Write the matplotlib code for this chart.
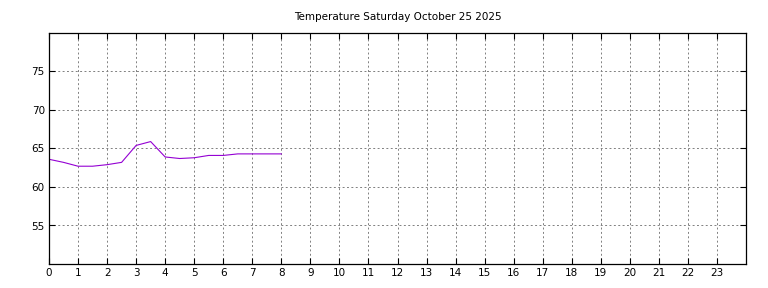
import matplotlib
matplotlib.use('Agg')
import matplotlib.pyplot as plt

hours = [0, 0.5, 1, 1.5, 2, 2.5, 3, 3.5, 4, 4.5, 5, 5.5, 6, 6.5, 7, 7.5, 8]
temps = [63.6, 63.2, 62.7, 62.7, 62.9, 63.2, 65.4, 65.9, 63.9, 63.7, 63.8,
         64.1, 64.1, 64.3, 64.3, 64.3, 64.3]
x_ticks = list(range(24))
y_ticks = [55, 60, 65, 70, 75]
title = 'Temperature Saturday October 25 2025'

fig = plt.figure(figsize=(7.68, 2.88), dpi=100)
ax = fig.add_axes([49 / 768, 1 - 264 / 288, 697 / 768, 231 / 288])

ax.plot(hours, temps, color='#9400d3', linewidth=0.8)

ax.set_xlim(0, 24)
ax.set_ylim(50, 80)
ax.set_xticks(x_ticks)
ax.set_yticks(y_ticks)
ax.tick_params(direction='in', length=4, width=0.8, labelsize=7.5,
               top=True, right=True, pad=3)
ax.grid(True, color='#808080', linestyle=(0, (2, 2.5)), linewidth=0.7)
for s in ax.spines.values():
    s.set_linewidth(0.9)
# title centred over the plot area, not the figure
ax.set_title(title, fontsize=7.5, pad=9)

fig.savefig('out.png', dpi=100)
